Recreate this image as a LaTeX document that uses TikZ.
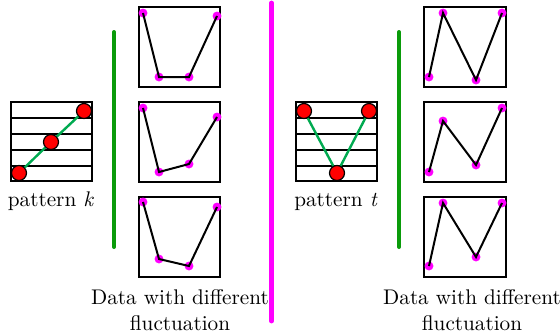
\documentclass[tikz,border=0pt]{standalone}
\usepackage{tikz}
\usetikzlibrary{positioning}
\definecolor{pinkline}{RGB}{255,0,255}
\definecolor{barGreen}{RGB}{10,155,10}
\definecolor{linkGreen}{RGB}{0,170,80}

\begin{document}
\begin{tikzpicture}[x=0.5pt,y=-0.5pt,
  frame/.style={draw,line width=1pt,minimum width=40.5pt,minimum height=40pt,inner sep=0pt},
  pbox/.style={draw,line width=1pt,minimum width=40.5pt,minimum height=39.5pt,inner sep=0pt},
  bead/.style={circle,draw,line width=0.6pt,fill=red,minimum size=7.5pt,inner sep=0pt},
  dot/.style={circle,draw=pinkline,line width=1.9pt,fill=black!85!blue,minimum size=2.4pt,inner sep=0pt},
  link/.style={linkGreen,line width=1.2pt},
  trace/.style={line width=1pt},
  bar/.style={line width=2pt,line cap=round},
  lbl/.style={font=\rmfamily\fontsize{10.6}{13}\selectfont,inner sep=0pt,align=center}]
  \useasboundingbox (0,0) rectangle (560,333);
  % pattern k
  \node[pbox] (pk) at (51.5,141.5) {};
  \foreach \y in {118,134,150,166} \draw[line width=1pt] (11,\y) -- (92,\y);
  \node[bead] (k1) at (19,173) {};
  \node[bead] (k2) at (51,142) {};
  \node[bead] (k3) at (84,111) {};
  \draw[link] (k1) -- (k2) -- (k3);
  \node[lbl,anchor=base] (pkl) at (51,206) {pattern \textit{k}};
  % pattern t
  \node[pbox] (pt) at (336.5,141.5) {};
  \foreach \y in {118,134,150,166} \draw[line width=1pt] (296,\y) -- (377,\y);
  \node[bead] (t1) at (304,111) {};
  \node[bead] (t2) at (337,173) {};
  \node[bead] (t3) at (369,111) {};
  \draw[link] (t1) -- (t2) -- (t3);
  \node[lbl,anchor=base] (ptl) at (336,206) {pattern \textit{t}};
  % separators
  \coordinate (gl1) at (114,32);  \coordinate (gl2) at (114,247);
  \coordinate (gr1) at (399,32);  \coordinate (gr2) at (399,247);
  \coordinate (m1) at (271.5,3);  \coordinate (m2) at (271.5,321);
  \draw[bar,barGreen] (gl1) -- (gl2);
  \draw[bar,barGreen] (gr1) -- (gr2);
  \draw[bar,pinkline,line width=2.4pt] (m1) -- (m2);
  % data boxes
  \foreach \cy in {47,142,237} {
    \node[frame] at (179.5,\cy) {};
    \node[frame,minimum width=41pt] at (465,\cy) {};
  }
  % left traces (pattern k)
  \foreach \n/\a/\b/\c/\d in {1/13/77/77/16, 2/108/172/164/117, 3/202/259/266/207} {
    \node[dot] (a\n) at (143,\a) {};
    \node[dot] (b\n) at (159,\b) {};
    \node[dot] (c\n) at (189,\c) {};
    \node[dot] (d\n) at (217,\d) {};
    \draw[trace] (a\n.center) -- (b\n.center) -- (c\n.center) -- (d\n.center);
  }
  % right traces (pattern t)
  \foreach \n/\a/\b/\c/\d in {1/77/13/80/13, 2/172/121/165/108, 3/266/203/257/203} {
    \node[dot] (e\n) at (429,\a) {};
    \node[dot] (f\n) at (443,\b) {};
    \node[dot] (g\n) at (476,\c) {};
    \node[dot] (h\n) at (502,\d) {};
    \draw[trace] (e\n.center) -- (f\n.center) -- (g\n.center) -- (h\n.center);
  }
  \node[lbl,anchor=north] (dl) at (180,289) {Data with different\\fluctuation};
  \node[lbl,anchor=north] (dr) at (472,289) {Data with different\\fluctuation};
\end{tikzpicture}
\end{document}
